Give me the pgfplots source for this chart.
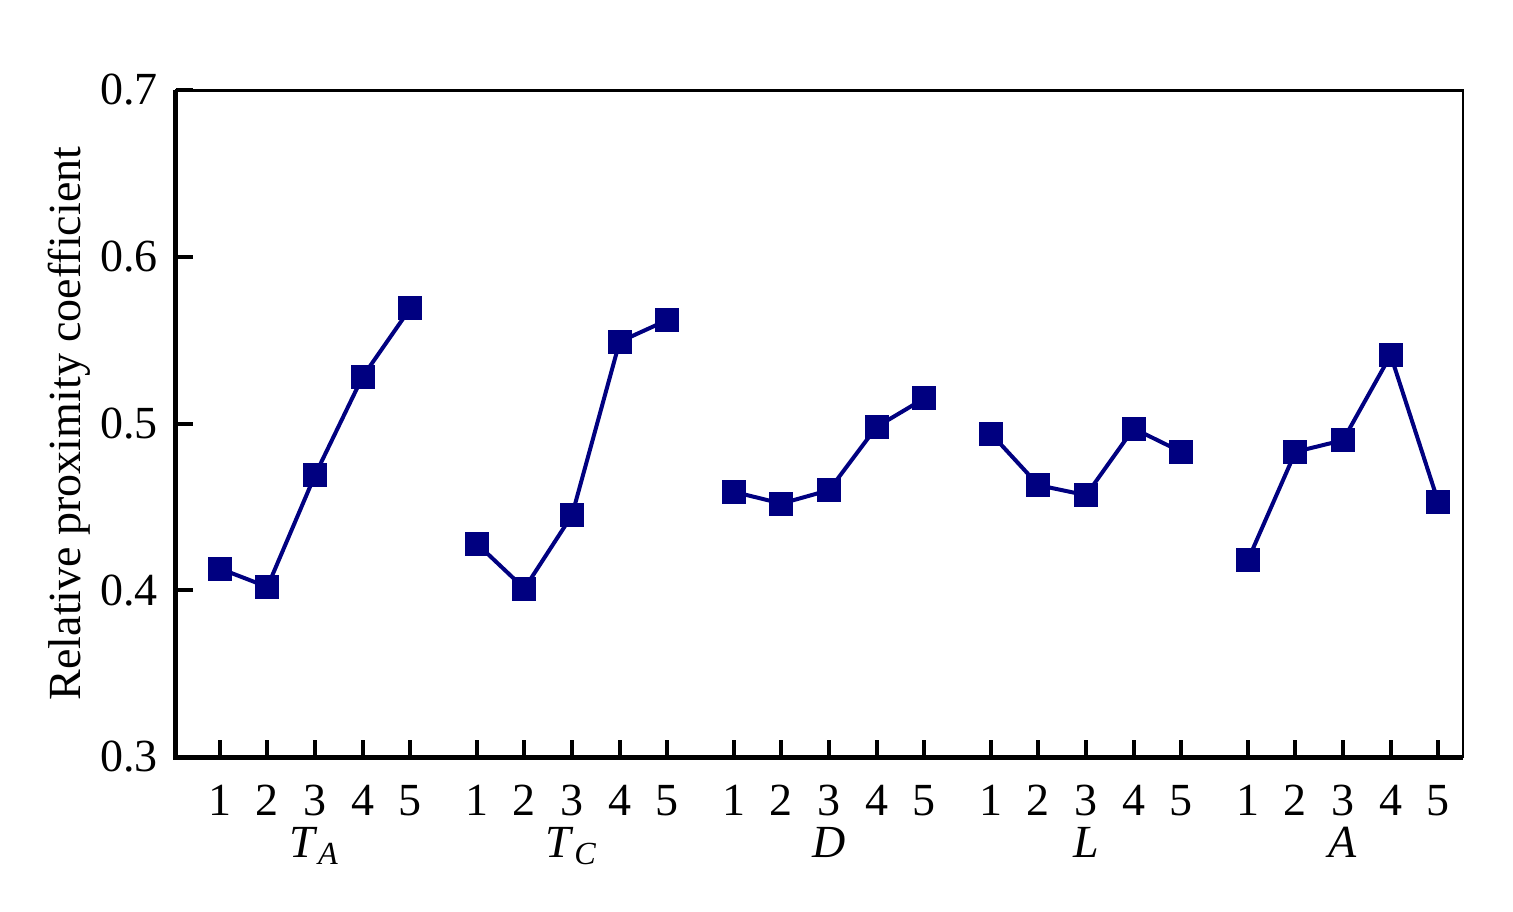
\documentclass[border=0pt]{standalone}
\usepackage{pgfplots}
\pgfplotsset{compat=1.18}
\usepackage{fontspec}
\setmainfont{Liberation Serif}
\definecolor{navy}{RGB}{0,0,128}
\begin{document}
\begin{tikzpicture}
\begin{axis}[
    scale only axis,
    width=321.75pt,
    height=166.75pt,
    xmin=-0.92, xmax=26.12,
    ymin=0.3, ymax=0.7,
    ytick={0.3,0.4,...,0.7},
    yticklabel style={/pgf/number format/fixed,/pgf/number format/precision=1,/pgf/number format/fixed zerofill,xshift=-1pt},
    xtick={0,1,2,3,4,5.4,6.4,7.4,8.4,9.4,10.8,11.8,12.8,13.8,14.8,16.2,17.2,18.2,19.2,20.2,21.6,22.6,23.6,24.6,25.6},
    xticklabels={1,2,3,4,5,1,2,3,4,5,1,2,3,4,5,1,2,3,4,5,1,2,3,4,5},
    /pgf/number format/assume math mode=true,
    tick label style={font=\fontsize{11.5}{13}\selectfont},
    xtick pos=bottom, ytick pos=left,
    tick align=inside,
    major tick length=4.3pt,
    tick style={black, line width=1pt},
    axis line style={line width=0.5pt},
    xticklabel style={yshift=-3.5pt},
    ylabel={Relative proximity coefficient},
    ylabel style={font=\fontsize{11.5}{13}\selectfont, yshift=-4.5pt},
    clip=false,
]
\addplot[navy, line width=1pt, mark=square*, mark size=2.5pt] coordinates {
    (0,0.413) (1,0.402) (2,0.469) (3,0.528) (4,0.569)
};
\addplot[navy, line width=1pt, mark=square*, mark size=2.5pt] coordinates {
    (5.4,0.428) (6.4,0.401) (7.4,0.445) (8.4,0.549) (9.4,0.562)
};
\addplot[navy, line width=1pt, mark=square*, mark size=2.5pt] coordinates {
    (10.8,0.459) (11.8,0.452) (12.8,0.460) (13.8,0.498) (14.8,0.515)
};
\addplot[navy, line width=1pt, mark=square*, mark size=2.5pt] coordinates {
    (16.2,0.494) (17.2,0.463) (18.2,0.457) (19.2,0.497) (20.2,0.483)
};
\addplot[navy, line width=1pt, mark=square*, mark size=2.5pt] coordinates {
    (21.6,0.418) (22.6,0.483) (23.6,0.490) (24.6,0.541) (25.6,0.453)
};
% heavier frame on left and bottom, medium on top
\draw[line width=1.25pt] (rel axis cs:0,1) -- (rel axis cs:0,0) -- (rel axis cs:1,0);
\draw[line width=0.75pt] (rel axis cs:0,1) -- (rel axis cs:1,1);
% group names
\node[font=\fontsize{11.5}{13}\selectfont, anchor=base] at ([yshift=-25pt]axis cs:2,0.3) {\textit{T}\textsubscript{\textit{A}}};
\node[font=\fontsize{11.5}{13}\selectfont, anchor=base] at ([yshift=-25pt]axis cs:7.4,0.3) {\textit{T}\textsubscript{\textit{C}}};
\node[font=\fontsize{11.5}{13}\selectfont, anchor=base] at ([yshift=-25pt]axis cs:12.8,0.3) {\textit{D}};
\node[font=\fontsize{11.5}{13}\selectfont, anchor=base] at ([yshift=-25pt]axis cs:18.2,0.3) {\textit{L}};
\node[font=\fontsize{11.5}{13}\selectfont, anchor=base] at ([yshift=-25pt]axis cs:23.6,0.3) {\textit{A}};
\end{axis}
\path[use as bounding box] ([xshift=-44pt,yshift=-38.75pt]current axis.south west) rectangle ([xshift=12.5pt,yshift=22.5pt]current axis.north east);
\end{tikzpicture}
\end{document}
